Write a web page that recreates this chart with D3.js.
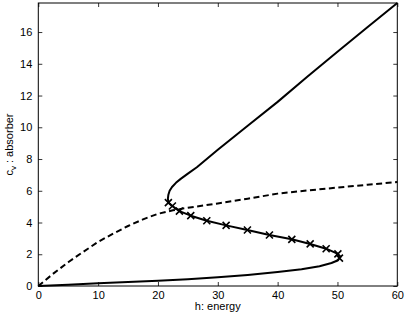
<!DOCTYPE html>
<html>
<head>
<meta charset="utf-8">
<script src="https://cdn.jsdelivr.net/npm/d3@7"></script>
<style>
html,body{margin:0;padding:0;background:#fff;}
svg{display:block;}
text{font-family:"Liberation Sans",Arial,Helvetica,sans-serif;font-size:11px;fill:#000;}
</style>
</head>
<body>
<svg id="chart" width="407" height="315"></svg>
<script>
// Tick values
const xTicks = [0, 10, 20, 30, 40, 50, 60];
const yTicks = [0, 2, 4, 6, 8, 10, 12, 14, 16];

// Lower stable branch (solid)
const lowerX = [0, 5, 10, 15, 20, 25, 30, 35, 40, 44, 47, 49, 50.1];
const lowerY = [0, 0.08, 0.17, 0.25, 0.33, 0.43, 0.55, 0.7, 0.88, 1.05, 1.25, 1.45, 1.62];

// Middle branch with cross markers
const midX = [50.33, 50.07, 48.11, 45.44, 42.37, 38.63, 34.95, 31.39, 28.16, 25.48, 23.58, 22.41, 21.74];
const midY = [1.76, 2.02, 2.35, 2.65, 2.94, 3.21, 3.53, 3.82, 4.11, 4.43, 4.72, 5.04, 5.25];

// Upper branch (solid)
const upperX = [21.66, 21.74, 21.95, 22.35, 23, 23.8, 25, 26.5, 28, 30, 35, 40, 45, 50, 55, 60];
const upperY = [5.5, 5.75, 6.0, 6.24, 6.5, 6.75, 7.08, 7.48, 7.95, 8.58, 10.1, 11.6, 13.2, 14.76, 16.3, 17.83];

// Dashed curve
const dashX = [0, 2.5, 5, 7.5, 10, 12.5, 15, 17.5, 20, 22.5, 25, 30, 35, 40, 45, 50, 55, 60];
const dashY = [0, 0.78, 1.5, 2.15, 2.78, 3.3, 3.78, 4.2, 4.55, 4.77, 4.93, 5.2, 5.5, 5.82, 6.02, 6.2, 6.38, 6.55];

const svg = d3.select("#chart");
const L = 38.3, R = 397.3, T = 3, B = 286;
const x = d3.scaleLinear().domain([0, 60]).range([L, R]);
const y = d3.scaleLinear().domain([0, 17.83]).range([B, T]);

const solid = lowerX.map((v, i) => [v, lowerY[i]])
  .concat(midX.map((v, i) => [v, midY[i]]))
  .concat(upperX.map((v, i) => [v, upperY[i]]));
const dashed = dashX.map((v, i) => [v, dashY[i]]);

const line = d3.line().x(d => x(d[0])).y(d => y(d[1]));

const g = svg.append("g");
g.append("path").attr("d", line(dashed)).attr("fill", "none")
  .attr("stroke", "#000").attr("stroke-width", 2).attr("stroke-dasharray", "6,3.5");
g.append("path").attr("d", line(solid)).attr("fill", "none")
  .attr("stroke", "#000").attr("stroke-width", 2).attr("stroke-linejoin", "round");

const s = 3.5;
g.selectAll("path.cross").data(midX.map((v, i) => [v, midY[i]])).enter()
  .append("path").attr("class", "cross")
  .attr("d", d => {
    const cx = x(d[0]), cy = y(d[1]);
    return `M${cx - s},${cy - s}L${cx + s},${cy + s}M${cx - s},${cy + s}L${cx + s},${cy - s}`;
  })
  .attr("stroke", "#000").attr("stroke-width", 1.6).attr("fill", "none");

// Axes (MATLAB style: inward ticks on all four sides)
const tl = 4;
const axB = svg.append("g").attr("transform", `translate(0,${B})`)
  .call(d3.axisBottom(x).tickValues(xTicks).tickSize(-tl).tickPadding(5).tickFormat(d3.format("d")));
const axT = svg.append("g").attr("transform", `translate(0,${T})`)
  .call(d3.axisTop(x).tickValues(xTicks).tickSize(-tl).tickFormat(""));
const axL = svg.append("g").attr("transform", `translate(${L},0)`)
  .call(d3.axisLeft(y).tickValues(yTicks).tickSize(-tl).tickPadding(6).tickFormat(d3.format("d")));
const axR = svg.append("g").attr("transform", `translate(${R},0)`)
  .call(d3.axisRight(y).tickValues(yTicks).tickSize(-tl).tickFormat(""));
[axB, axT, axL, axR].forEach(a => {
  a.select(".domain").remove();
  a.selectAll("line").attr("stroke", "#000").attr("stroke-width", 0.8);
  a.selectAll("text").attr("font-family", "Liberation Sans, Arial, sans-serif").attr("font-size", 11).attr("fill", "#000");
});

svg.append("rect").attr("x", L).attr("y", T).attr("width", R - L).attr("height", B - T)
  .attr("fill", "none").attr("stroke", "#000").attr("stroke-width", 1);

svg.append("text").attr("x", (L + R) / 2).attr("y", 310).attr("text-anchor", "middle").text("h: energy");

const yl = svg.append("text").attr("transform", `translate(13,${(T + B) / 2}) rotate(-90)`)
  .attr("text-anchor", "middle");
yl.append("tspan").text("c");
yl.append("tspan").attr("font-size", 8).attr("dy", 3).text("v");
yl.append("tspan").attr("dy", -3).text(" : absorber");
</script>
</body>
</html>
